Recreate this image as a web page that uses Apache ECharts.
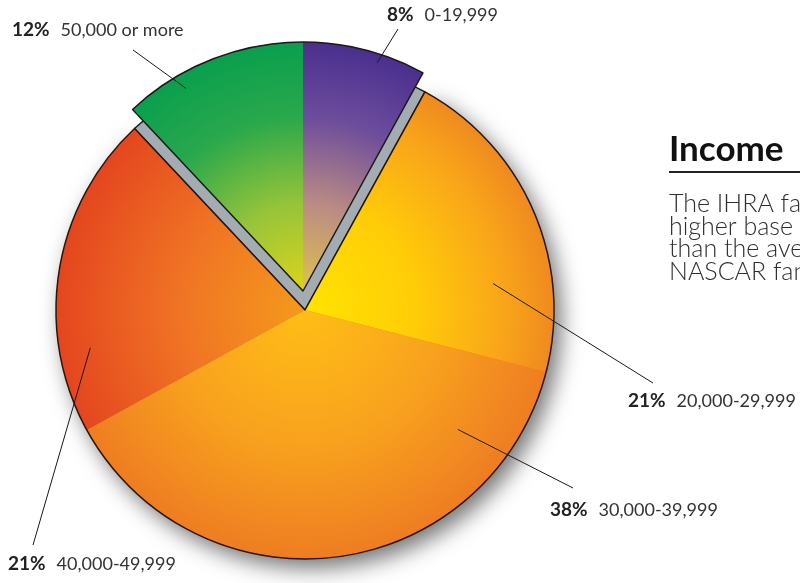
<!DOCTYPE html>
<html>
<head>
<meta charset="utf-8">
<title>Income</title>
<script src="https://cdn.jsdelivr.net/npm/echarts@6/dist/echarts.min.js"></script>
<style>
  html, body { margin: 0; padding: 0; background: #fff; }
  #chart { width: 800px; height: 583px; }
</style>
</head>
<body>
<div id="chart"></div>
<script>
// income brackets, clockwise from 12 o'clock
const brackets = ['0-19,999', '20,000-29,999', '30,000-39,999', '40,000-49,999', '50,000 or more'];
const shares = [8, 21, 38, 21, 12];
const pulledOut = [true, false, false, false, true];

const headline = 'Income';
const blurb = ['The IHRA fan has a', 'higher base income', 'than the average', 'NASCAR fan.'];

// geometry
const R = 249;
const mainC = [305, 310];
const outC = [303, 291];
const FONT = 'Lato, "Open Sans", sans-serif';

// radial colour ramps per slice (centre -> rim)
const ramps = [
  [[0, '#e0c24c'], [0.35, '#bb8c84'], [0.7, '#6c4c9c'], [1, '#4a2f8e']],
  [[0, '#ffe400'], [0.45, '#ffcc08'], [0.8, '#f9a51a'], [1, '#ef8a1f']],
  [[0, '#ffbe16'], [0.55, '#f8a11e'], [1, '#ee7d22']],
  [[0, '#f49a1c'], [0.5, '#f07424'], [1, '#e4461f']],
  [[0, '#dcd41c'], [0.35, '#96c43a'], [0.7, '#2aa84c'], [1, '#0a9f4e']]
];

// where each leader line starts (polar, from its slice's centre) and where its label sits
const leaders = [
  { ang: 18, rad: 240, end: [398, 29], at: [387, 15] },
  { ang: 82, rad: 190, end: [653, 383], at: [628, 401] },
  { ang: 128, rad: 194, end: [573, 488], at: [550, 510] },
  { ang: 260, rad: 218, end: [33, 545], at: [8, 564] },
  { ang: 330, rad: 234, end: [133, 50], at: [12, 30] }
];

const clear = 'rgba(0,0,0,0)';
const total = shares.reduce((a, b) => a + b, 0);

const grad = (c, stops) => ({
  type: 'radial', x: c[0], y: c[1], r: R, global: true,
  colorStops: stops.map(s => ({ offset: s[0], color: s[1] }))
});

// merge neighbouring slices into pulled / not pulled runs (for outlines and shadow)
let k = 0;
while (k < shares.length && pulledOut[k] === pulledOut[(k - 1 + shares.length) % shares.length]) k++;
const before = shares.slice(0, k).reduce((a, b) => a + b, 0);
const runs = [];
for (let j = 0; j < shares.length; j++) {
  const i = (k + j) % shares.length;
  const last = runs[runs.length - 1];
  if (last && last.out === pulledOut[i]) last.value += shares[i];
  else runs.push({ value: shares[i], out: pulledOut[i] });
}
const runStart = 90 - before / total * 360;

const layer = (center, startAngle, z, data) => ({
  type: 'pie', center, radius: [0, R], startAngle, clockwise: true,
  silent: true, z, animation: false,
  label: { show: false }, labelLine: { show: false },
  emphasis: { disabled: true },
  data
});

const series = [
  // drop shadow under the main body
  layer(mainC, runStart, 1, runs.map(r => ({
    value: r.value,
    itemStyle: r.out ? { color: clear } : {
      color: '#ee8020', shadowBlur: 22, shadowColor: 'rgba(0,0,0,0.55)',
      shadowOffsetX: 7, shadowOffsetY: 9
    }
  }))),
  // grey wall left where the pulled slices came from
  layer(mainC, runStart, 2, runs.map(r => ({
    value: r.value,
    itemStyle: r.out ? { color: '#a3abb3', borderColor: '#1e1e1e', borderWidth: 1.5 } : { color: clear }
  }))),
  // main slices
  layer(mainC, 90, 3, shares.map((v, i) => ({
    value: v, name: brackets[i],
    itemStyle: pulledOut[i] ? { color: clear } : { color: grad(mainC, ramps[i]) }
  }))),
  // main outline
  layer(mainC, runStart, 4, runs.map(r => ({
    value: r.value,
    itemStyle: r.out ? { color: clear } : { color: clear, borderColor: '#2a1608', borderWidth: 1.5 }
  }))),
  // pulled-out slices
  layer(outC, 90, 5, shares.map((v, i) => ({
    value: v, name: brackets[i],
    itemStyle: pulledOut[i] ? { color: grad(outC, ramps[i]) } : { color: clear }
  }))),
  layer(outC, runStart, 6, runs.map(r => ({
    value: r.value,
    itemStyle: r.out ? { color: clear, borderColor: '#1a1a1a', borderWidth: 1.5 } : { color: clear }
  })))
];

const graphic = [];
shares.forEach((v, i) => {
  const L = leaders[i];
  const c = pulledOut[i] ? outC : mainC;
  const a = L.ang * Math.PI / 180;
  graphic.push({
    type: 'line', z: 100, silent: true,
    shape: { x1: c[0] + L.rad * Math.sin(a), y1: c[1] - L.rad * Math.cos(a), x2: L.end[0], y2: L.end[1] },
    style: { stroke: '#1a1a1a', lineWidth: 1 }
  });
  graphic.push({
    type: 'text', z: 100, silent: true, x: L.at[0], y: L.at[1],
    style: {
      text: '{b|' + v + '%}{n|' + brackets[i] + '}',
      verticalAlign: 'middle',
      rich: {
        b: { fontFamily: FONT, fontWeight: 'bold', fontSize: 19, fill: '#222', padding: [0, 11, 0, 0] },
        n: { fontFamily: FONT, fontSize: 18, fill: '#333' }
      }
    }
  });
});

graphic.push({
  type: 'text', z: 100, silent: true, x: 669, y: 150,
  style: { text: headline, fontFamily: FONT, fontWeight: 'bold', fontSize: 35, fill: '#111', verticalAlign: 'middle' }
});
graphic.push({
  type: 'line', z: 100, silent: true,
  shape: { x1: 669, y1: 172, x2: 800, y2: 172 },
  style: { stroke: '#222', lineWidth: 2 }
});
graphic.push({
  type: 'text', z: 100, silent: true, x: 669, y: 193,
  style: { text: blurb.join('\n'), fontFamily: FONT, fontWeight: 300, fontSize: 25, lineHeight: 22.5, fill: '#2e2e2e', verticalAlign: 'top' }
});

const chart = echarts.init(document.getElementById('chart'));
chart.setOption({
  backgroundColor: '#fff',
  animation: false,
  series,
  graphic
});
</script>
</body>
</html>
